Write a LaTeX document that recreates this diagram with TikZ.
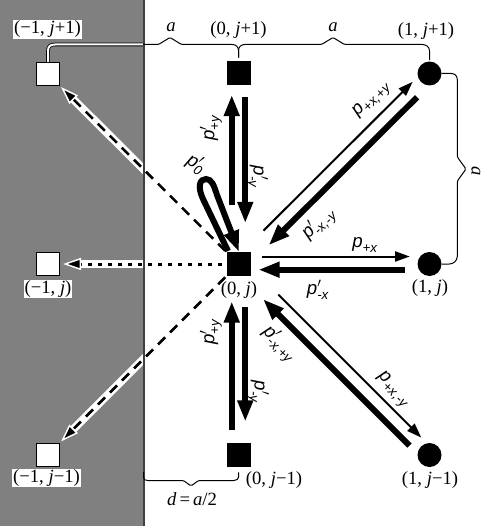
\documentclass[tikz,border=0pt]{standalone}
\usepackage{fontspec}
\setmainfont{Liberation Serif}
\newfontfamily\pf{Liberation Sans}
\usetikzlibrary{arrows.meta,calc}
\newcommand\subf[1]{\hbox{\pf\itshape\fontsize{10}{10}\selectfont #1}}
\newcommand\pp[1]{$\hbox{\pf\itshape p}'_{\subf{#1}}$}
\newcommand\pn[1]{$\hbox{\pf\itshape p}_{\subf{#1}}$}
\begin{document}
\begin{tikzpicture}[x=0.75pt,y=-0.75pt,
  blk/.style={fill=black,minimum size=18pt,inner sep=0pt},
  wht/.style={draw=black,fill=white,line width=0.75pt,minimum size=17.25pt,inner sep=0pt},
  dotn/.style={circle,fill=black,minimum size=18pt,inner sep=0pt},
  coord/.style={font=\fontsize{14}{16}\selectfont,inner sep=0.5pt},
  wbox/.style={coord,fill=white},
  plab/.style={font=\fontsize{14}{16}\selectfont,inner sep=0pt},
  thk/.style={line width=4.5pt,-{Triangle[length=16pt,width=11pt]}},
  thn/.style={line width=1.5pt,-{Triangle[length=11pt,width=7.5pt]}},
  brace/.style={line width=0.75pt,rounded corners=1pt},
  wallarr/.style={line width=1.9pt,-{Triangle[length=13.5pt,width=9pt,fill=black,color=white,line width=1.1pt]}},
  halo/.style={white,line width=6pt,shorten >=9pt},
]
\useasboundingbox (0,0) rectangle (485,528);
% wall region
\fill[gray] (0,0) rectangle (143.5,526);
\draw[line width=1.5pt,black!75] (143.5,0) -- (143.5,526);
\coordinate (wallb) at (143.5,472);

% sites
\node[blk] (A) at (238.5,264) {};
\node[blk] (B) at (238.5,73.5) {};
\node[blk] (C) at (238.5,455) {};
\node[dotn] (D) at (429.5,73.5) {};
\node[dotn] (E) at (429.5,264) {};
\node[dotn] (F) at (429.5,455) {};
\node[wht] (L1) at (48,74) {};
\node[wht] (L2) at (48,264) {};
\node[wht] (L3) at (48,454.5) {};

% braces
\draw[brace] (L1.north) -- (48,51) .. controls (48,46.5) and (50,44.5) .. (55,44.5)
  -- (158.5,44.5) -- (170,37.5) -- (181.5,44.5) -- (231,44.5)
  .. controls (236,44.5) and (238.5,47) .. (238.5,52) -- ($(B.north)+(0,-3.5)$);
\begin{scope}
  \clip (0,0) rectangle (142.8,526);
  \draw[line width=0.6pt,double=white,double distance=1.5pt] (L1.north) -- (48,51)
    .. controls (48,46.5) and (50,44.5) .. (55,44.5) -- (150,44.5);
\end{scope}
\draw[brace] ($(B.north)+(0,-3.5)$) -- (238.5,52) .. controls (238.5,47) and (241,44.5) .. (246,44.5)
  -- (321.5,44.5) -- (333,37.5) -- (344.5,44.5) -- (421,44.5)
  .. controls (426,44.5) and (429.5,47) .. (429.5,52) -- ($(D.north)+(0,-1)$);
\draw[brace] (D.east) -- (450,73.5) .. controls (455,73.5) and (457.3,76) .. (457.3,81)
  -- (457.3,157) -- (466,169) -- (457.3,181) -- (457.3,255)
  .. controls (457.3,261) and (453,264) .. (448,264) -- (E.east);
\draw[brace] (wallb) -- (143.5,476) .. controls (143.5,479.5) and (145,480.5) .. (149,480.5)
  -- (183.5,480.5) -- (191,486) -- (198.5,480.5) -- (232.5,480.5)
  .. controls (236.5,480.5) and (238.5,479) .. (238.5,476) -- ($(C.south)+(0,5)$);

% wall jumps
\begin{scope}
  \clip (0,0) rectangle (142.8,526);
  \draw[halo] ($(A.north west)+(-1,-1)$) -- ($(L1.south east)+(1,1)$);
  \draw[halo] ($(A.west)+(-4,0)$) -- ($(L2.east)+(3,0)$);
  \draw[halo] ($(A.south west)+(-1,1)$) -- ($(L3.north east)+(1,-1)$);
\end{scope}
\draw[wallarr,dash pattern=on 7.5pt off 5.25pt] ($(A.north west)+(-1,-1)$) -- ($(L1.south east)+(1,1)$);
\draw[wallarr,line width=2.25pt,dash pattern=on 3pt off 4.5pt] ($(A.west)+(-4,0)$) -- ($(L2.east)+(3,0)$);
\draw[wallarr,dash pattern=on 7.5pt off 5.25pt] ($(A.south west)+(-1,1)$) -- ($(L3.north east)+(1,-1)$);

% vertical hops
\draw[thk] ($(A.north)+(-6.75,-47)$) -- ($(B.south)+(-6.75,9)$);
\draw[thk] ($(B.south)+(6.75,11.5)$) -- ($(A.north)+(6.75,-28.5)$);
\draw[thk] ($(C.north)+(-6.75,-13)$) -- ($(A.south)+(-6.75,25)$);
\draw[thk] ($(A.south)+(6.75,31)$) -- ($(C.north)+(6.75,-21)$);
% horizontal hops
\draw[thn] ($(A.east)+(11.5,-7.5)$) -- ($(E.west)+(-7.5,-7.5)$);
\draw[thk] ($(E.west)+(-12.5,5.7)$) -- ($(A.east)+(7.5,5.7)$);
% diagonal hops
\draw[thn] ($(A)!0.153!(D)+(-4.24,-4.24)$) -- ($(A)!0.934!(D)+(-4.24,-4.24)$);
\draw[thk] ($(A)!0.905!(D)+(5.66,5.66)$) -- ($(A)!0.128!(D)+(5.66,5.66)$);
\draw[thn] ($(A)!0.184!(F)+(4.6,-4.6)$) -- ($(A)!0.933!(F)+(4.6,-4.6)$);
\draw[thk] ($(A)!0.923!(F)+(-5.3,5.3)$) -- ($(A)!0.156!(F)+(-5.3,5.3)$);
% rest loop
\begin{scope}[shift={(A)}]
  \draw[thk] (-10.5,-13) -- (-35.5,-65) .. controls (-41.5,-78) and (-38.5,-85) .. (-32.5,-85)
    .. controls (-26.5,-85) and (-24.5,-78) .. (-21.5,-69) -- (0.5,-12);
\end{scope}

% coordinate labels
\node[wbox] (t1) at (47.5,29.5) {(−1, \textit{j}+1)};
\node[coord] (t2) at (238.5,30) {(0, \textit{j}+1)};
\node[coord] (t3) at (426,31) {(1, \textit{j}+1)};
\node[wbox] (t4) at (48,289) {(−1, \textit{j})};
\node[coord] (t5) at (239,290) {(0, \textit{j})};
\node[coord] (t6) at (430,288) {(1, \textit{j})};
\node[wbox] (t7) at (46.5,478) {(−1, \textit{j}−1)};
\node[coord] (t8) at (274,480) {(0, \textit{j}−1)};
\node[coord] (t9) at (430,480) {(1, \textit{j}−1)};
\node[coord] (la1) at (171,27) {\textit{a}};
\node[coord] (la2) at (333,27) {\textit{a}};
\node[coord,rotate=-90] (la3) at (476,171) {\textit{a}};
\node[coord] (ld) at (192,499) {\textit{d}\,=\,\textit{a}/2};

% probability labels
\node[plab,rotate=90] (q1) at (211,128) {\pp{+y}};
\node[plab,rotate=-90] (q2) at (257,177) {\pp{-y}};
\node[plab,rotate=-30] (q3) at (196,164) {\pp{0}};
\node[plab,rotate=45] (q4) at (372,100) {\pn{+x,+y}};
\node[plab,rotate=45] (q5) at (319,224) {\pp{-x,-y}};
\node[plab] (q6) at (365,245) {\pn{+x}};
\node[plab] (q7) at (318,290) {\pp{-x}};
\node[plab,rotate=-45] (q8) at (279,344) {\pp{-x,+y}};
\node[plab,rotate=-45] (q9) at (393,390) {\pn{+x,-y}};
\node[plab,rotate=90] (q10) at (211,332) {\pp{+y}};
\node[plab,rotate=-90] (q11) at (258,392) {\pp{-y}};
\end{tikzpicture}
\end{document}
